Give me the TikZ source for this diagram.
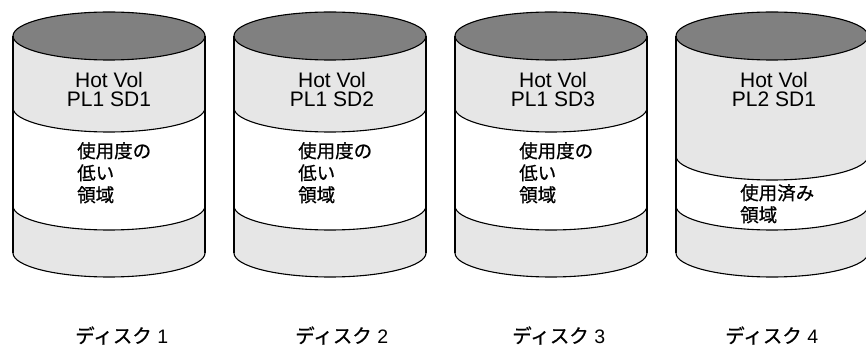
\documentclass[tikz,border=0pt]{standalone}
\usepackage{fontspec}
\setmainfont{Liberation Sans}
\newfontfamily\jpfont[FakeBold=0.7]{Noto Sans CJK JP}
\usetikzlibrary{positioning}

\definecolor{topgray}{HTML}{808080}
\definecolor{sidegray}{HTML}{E6E6E6}

\begin{document}
\begin{tikzpicture}[x=1pt, y=1pt,
    side/.style={line width=2pt},
    rim/.style={line width=1.1pt},
    hottext/.style={inner sep=0pt, align=center, font=\fontsize{21}{19.5}\selectfont},
    jptext/.style={inner sep=0pt, align=left, font=\jpfont\fontsize{18.5}{22}\selectfont},
    disklabel/.style={inner sep=0pt, font=\fontsize{19.5}{22}\selectfont}]
			\useasboundingbox (0,0) rectangle (866,-347);
			\clip (0,0) rectangle (866,-347);

			% disk 1
			\fill[sidegray] (13,-36) -- (13,-253) arc (180:360:96 and 24) -- (205,-36) -- cycle;
			\fill[white] (13,-108) arc (180:360:96 and 24) -- (205,-206) arc (0:-180:96 and 24) -- cycle;
			\filldraw[fill=topgray, rim] (109,-36) ellipse (96 and 24);
			\draw[rim] (13,-108) arc (180:360:96 and 24);
			\draw[rim] (13,-206) arc (180:360:96 and 24);
			\draw[rim] (13,-253) arc (180:360:96 and 24);
			\draw[side] (13,-36) -- (13,-253);
			\draw[side] (205,-36) -- (205,-253);

			% disk 2
			\fill[sidegray] (234,-36) -- (234,-253) arc (180:360:96 and 24) -- (426,-36) -- cycle;
			\fill[white] (234,-108) arc (180:360:96 and 24) -- (426,-206) arc (0:-180:96 and 24) -- cycle;
			\filldraw[fill=topgray, rim] (330,-36) ellipse (96 and 24);
			\draw[rim] (234,-108) arc (180:360:96 and 24);
			\draw[rim] (234,-206) arc (180:360:96 and 24);
			\draw[rim] (234,-253) arc (180:360:96 and 24);
			\draw[side] (234,-36) -- (234,-253);
			\draw[side] (426,-36) -- (426,-253);

			% disk 3
			\fill[sidegray] (455,-36) -- (455,-253) arc (180:360:96 and 24) -- (647,-36) -- cycle;
			\fill[white] (455,-108) arc (180:360:96 and 24) -- (647,-206) arc (0:-180:96 and 24) -- cycle;
			\filldraw[fill=topgray, rim] (551,-36) ellipse (96 and 24);
			\draw[rim] (455,-108) arc (180:360:96 and 24);
			\draw[rim] (455,-206) arc (180:360:96 and 24);
			\draw[rim] (455,-253) arc (180:360:96 and 24);
			\draw[side] (455,-36) -- (455,-253);
			\draw[side] (647,-36) -- (647,-253);

			% disk 4
			\fill[sidegray] (676,-36) -- (676,-253) arc (180:360:96 and 24) -- (868,-36) -- cycle;
			\fill[white] (676,-156) arc (180:360:96 and 24) -- (868,-206) arc (0:-180:96 and 24) -- cycle;
			\filldraw[fill=topgray, rim] (772,-36) ellipse (96 and 24);
			\draw[rim] (676,-156) arc (180:360:96 and 24);
			\draw[rim] (676,-206) arc (180:360:96 and 24);
			\draw[rim] (676,-253) arc (180:360:96 and 24);
			\draw[side] (676,-36) -- (676,-253);
			\draw[side] (868,-36) -- (868,-253);

			\node (hot1) [hottext, anchor=north] at (109,-72) {Hot Vol\\PL1 SD1};
			\node (hot2) [hottext, anchor=north] at (332,-72) {Hot Vol\\PL1 SD2};
			\node (hot3) [hottext, anchor=north] at (553,-72) {Hot Vol\\PL1 SD3};
			\node (hot4) [hottext, anchor=north] at (774,-72) {Hot Vol\\PL2 SD1};

			\node (low1) [jptext, anchor=north west] at (77,-142) {使用度の\\低い\\領域};
			\node (low2) [jptext, anchor=north west] at (298,-142) {使用度の\\低い\\領域};
			\node (low3) [jptext, anchor=north west] at (519,-142) {使用度の\\低い\\領域};
			\node (used4) [jptext, anchor=north west] at (740,-184) {使用済み\\領域};

			\node (disk1) [disklabel, anchor=base west] at (75,-343) {{\jpfont ディスク} 1};
			\node (disk2) [disklabel, anchor=base west] at (295,-343) {{\jpfont ディスク} 2};
			\node (disk3) [disklabel, anchor=base west] at (512,-343) {{\jpfont ディスク} 3};
			\node (disk4) [disklabel, anchor=base west] at (725,-343) {{\jpfont ディスク} 4};
		\end{tikzpicture}
\end{document}
